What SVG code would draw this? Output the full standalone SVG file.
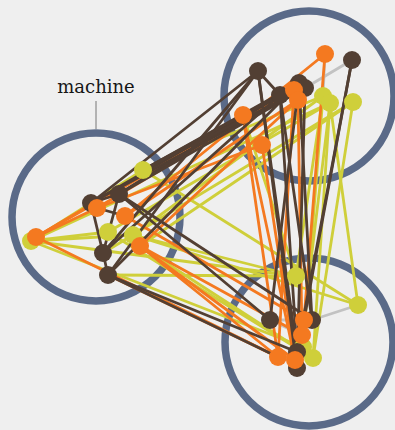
<svg xmlns="http://www.w3.org/2000/svg" width="395" height="430" viewBox="0 0 395 430">
<style>
.ring{fill:none;stroke:#5a6a88;stroke-width:7.5}
.e line{stroke-width:2.8;stroke-linecap:round}
.d{stroke:#523f33}
.o{stroke:#f47920}
.y{stroke:#cfcf3a}
.g{stroke:#c2c2c2}
.nd{fill:#523f33}
.no{fill:#f47920}
.ny{fill:#cfcf3a}
.lbl{font-family:"DejaVu Serif","Liberation Serif",serif;font-size:18px;fill:#161616}
</style>
<rect width="395" height="430" fill="#efefef"/>
<g id="groups">
<circle id="group-machine" class="ring" cx="96" cy="217" r="84"/>
<circle id="group-top" class="ring" cx="309" cy="96" r="85"/>
<circle id="group-bottom" class="ring" cx="309" cy="342" r="84"/>
</g>
<g id="label-machine">
<text class="lbl" x="96" y="93" text-anchor="middle">machine</text>
<line x1="96" y1="101" x2="96" y2="129" stroke="#777" stroke-width="1"/>
</g>
<g id="connectors" class="e">
<line class="g" x1="325" y1="54" x2="323" y2="96"/>
<line class="g" x1="352" y1="60" x2="305" y2="88"/>
<line class="g" x1="270" y1="320" x2="312" y2="320"/>
<line class="g" x1="270" y1="320" x2="302" y2="335"/>
<line class="g" x1="312" y1="320" x2="358" y2="305"/>
<line class="y" x1="31" y1="241" x2="133" y2="235"/>
<line class="y" x1="31" y1="241" x2="108" y2="232"/>
<line class="y" x1="31" y1="241" x2="296" y2="276"/>
<line class="y" x1="31" y1="241" x2="303" y2="347"/>
<line class="y" x1="31" y1="241" x2="330" y2="103"/>
<line class="y" x1="31" y1="241" x2="143" y2="170"/>
<line class="y" x1="143" y1="170" x2="323" y2="96"/>
<line class="y" x1="143" y1="170" x2="358" y2="305"/>
<line class="y" x1="108" y1="232" x2="330" y2="103"/>
<line class="y" x1="133" y1="235" x2="323" y2="96"/>
<line class="y" x1="133" y1="235" x2="296" y2="276"/>
<line class="y" x1="133" y1="235" x2="358" y2="305"/>
<line class="y" x1="108" y1="232" x2="313" y2="358"/>
<line class="y" x1="353" y1="102" x2="140" y2="246"/>
<line class="y" x1="353" y1="102" x2="103" y2="253"/>
<line class="y" x1="323" y1="96" x2="303" y2="347"/>
<line class="y" x1="330" y1="103" x2="313" y2="358"/>
<line class="y" x1="353" y1="102" x2="313" y2="358"/>
<line class="y" x1="330" y1="103" x2="358" y2="305"/>
<line class="y" x1="323" y1="96" x2="296" y2="276"/>
<line class="y" x1="330" y1="103" x2="302" y2="335"/>
<line class="y" x1="296" y1="276" x2="108" y2="275"/>
<line class="y" x1="296" y1="276" x2="243" y2="115"/>
<line class="y" x1="313" y1="358" x2="140" y2="246"/>
<line class="o" x1="36" y1="237" x2="97" y2="208"/>
<line class="o" x1="36" y1="237" x2="243" y2="115"/>
<line class="o" x1="36" y1="237" x2="294" y2="90"/>
<line class="o" x1="36" y1="237" x2="278" y2="357"/>
<line class="o" x1="97" y1="208" x2="294" y2="90"/>
<line class="o" x1="97" y1="208" x2="262" y2="145"/>
<line class="o" x1="125" y1="216" x2="298" y2="100"/>
<line class="o" x1="125" y1="216" x2="325" y2="54"/>
<line class="o" x1="140" y1="246" x2="278" y2="357"/>
<line class="o" x1="140" y1="246" x2="295" y2="360"/>
<line class="o" x1="140" y1="246" x2="302" y2="335"/>
<line class="o" x1="140" y1="246" x2="298" y2="100"/>
<line class="o" x1="125" y1="216" x2="304" y2="320"/>
<line class="o" x1="243" y1="115" x2="278" y2="357"/>
<line class="o" x1="262" y1="145" x2="295" y2="360"/>
<line class="o" x1="294" y1="90" x2="278" y2="357"/>
<line class="o" x1="298" y1="100" x2="302" y2="335"/>
<line class="o" x1="325" y1="54" x2="304" y2="320"/>
<line class="o" x1="243" y1="115" x2="295" y2="360"/>
<line class="o" x1="108" y1="275" x2="278" y2="357"/>
<line class="d" x1="91" y1="203" x2="119" y2="194"/>
<line class="d" x1="91" y1="203" x2="103" y2="253"/>
<line class="d" x1="119" y1="194" x2="103" y2="253"/>
<line class="d" x1="103" y1="253" x2="108" y2="275"/>
<line class="d" x1="97" y1="208" x2="125" y2="216"/>
<line class="d" x1="91" y1="203" x2="299" y2="83"/>
<line class="d" x1="91" y1="203" x2="305" y2="88"/>
<line class="d" x1="119" y1="194" x2="299" y2="83"/>
<line class="d" x1="119" y1="194" x2="280" y2="95"/>
<line class="d" x1="119" y1="194" x2="305" y2="88"/>
<line class="d" x1="143" y1="170" x2="299" y2="83"/>
<line class="d" x1="143" y1="170" x2="280" y2="95"/>
<line class="d" x1="143" y1="170" x2="305" y2="88"/>
<line class="d" x1="91" y1="203" x2="258" y2="71"/>
<line class="d" x1="103" y1="253" x2="258" y2="71"/>
<line class="d" x1="103" y1="253" x2="280" y2="95"/>
<line class="d" x1="108" y1="275" x2="299" y2="83"/>
<line class="d" x1="108" y1="275" x2="258" y2="71"/>
<line class="d" x1="119" y1="194" x2="270" y2="320"/>
<line class="d" x1="119" y1="194" x2="312" y2="320"/>
<line class="d" x1="108" y1="275" x2="297" y2="352"/>
<line class="d" x1="108" y1="275" x2="278" y2="357"/>
<line class="d" x1="258" y1="71" x2="297" y2="352"/>
<line class="d" x1="258" y1="71" x2="297" y2="368"/>
<line class="d" x1="258" y1="71" x2="280" y2="95"/>
<line class="d" x1="280" y1="95" x2="297" y2="352"/>
<line class="d" x1="299" y1="83" x2="312" y2="320"/>
<line class="d" x1="305" y1="88" x2="297" y2="368"/>
<line class="d" x1="352" y1="60" x2="297" y2="352"/>
<line class="d" x1="352" y1="60" x2="304" y2="320"/>
<line class="d" x1="270" y1="320" x2="299" y2="83"/>
<line class="d" x1="312" y1="320" x2="280" y2="95"/>
</g>
<g id="n-L1"><circle class="ny" cx="31" cy="241" r="9"/></g>
<g id="n-L2"><circle class="no" cx="36" cy="237" r="9"/></g>
<g id="n-L3"><circle class="nd" cx="91" cy="203" r="9"/></g>
<g id="n-L5"><circle class="nd" cx="119" cy="194" r="9"/></g>
<g id="n-L4"><circle class="no" cx="97" cy="208" r="9"/></g>
<g id="n-L6"><circle class="ny" cx="143" cy="170" r="9"/></g>
<g id="n-L7"><circle class="no" cx="125" cy="216" r="9"/></g>
<g id="n-L8"><circle class="ny" cx="108" cy="232" r="9"/></g>
<g id="n-L9"><circle class="ny" cx="133" cy="235" r="9"/></g>
<g id="n-L10"><circle class="no" cx="140" cy="246" r="9"/></g>
<g id="n-L11"><circle class="nd" cx="103" cy="253" r="9"/></g>
<g id="n-L12"><circle class="nd" cx="108" cy="275" r="9"/></g>
<g id="n-T1"><circle class="no" cx="325" cy="54" r="9"/></g>
<g id="n-T2"><circle class="nd" cx="352" cy="60" r="9"/></g>
<g id="n-T3"><circle class="nd" cx="258" cy="71" r="9"/></g>
<g id="n-T4"><circle class="nd" cx="299" cy="83" r="9"/></g>
<g id="n-T5"><circle class="nd" cx="305" cy="88" r="9"/></g>
<g id="n-T6"><circle class="nd" cx="280" cy="95" r="9"/></g>
<g id="n-T7"><circle class="no" cx="294" cy="90" r="9"/></g>
<g id="n-T8"><circle class="no" cx="298" cy="100" r="9"/></g>
<g id="n-T9"><circle class="ny" cx="323" cy="96" r="9"/></g>
<g id="n-T10"><circle class="ny" cx="330" cy="103" r="9"/></g>
<g id="n-T11"><circle class="ny" cx="353" cy="102" r="9"/></g>
<g id="n-T12"><circle class="no" cx="243" cy="115" r="9"/></g>
<g id="n-T13"><circle class="no" cx="262" cy="145" r="9"/></g>
<g id="n-B1"><circle class="ny" cx="296" cy="276" r="9"/></g>
<g id="n-B2"><circle class="ny" cx="358" cy="305" r="9"/></g>
<g id="n-B3"><circle class="nd" cx="270" cy="320" r="9"/></g>
<g id="n-B4"><circle class="nd" cx="312" cy="320" r="9"/></g>
<g id="n-B5"><circle class="no" cx="304" cy="320" r="9"/></g>
<g id="n-B7"><circle class="ny" cx="303" cy="347" r="9"/></g>
<g id="n-B6"><circle class="no" cx="302" cy="335" r="9"/></g>
<g id="n-B9"><circle class="ny" cx="313" cy="358" r="9"/></g>
<g id="n-B12"><circle class="nd" cx="297" cy="368" r="9"/></g>
<g id="n-B8"><circle class="nd" cx="297" cy="352" r="9"/></g>
<g id="n-B10"><circle class="no" cx="278" cy="357" r="9"/></g>
<g id="n-B11"><circle class="no" cx="295" cy="360" r="9"/></g>
</svg>
